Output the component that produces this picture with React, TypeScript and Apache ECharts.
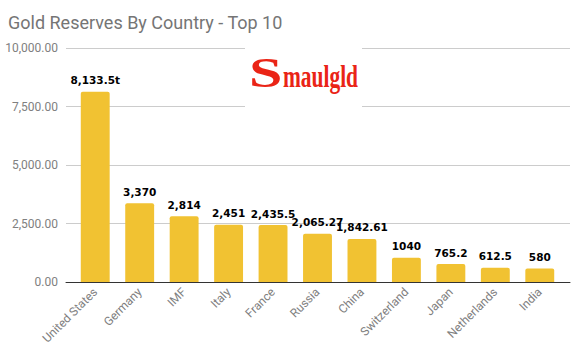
import React, { useEffect, useRef } from "react";
import * as echarts from "echarts";

const categories = ["United States", "Germany", "IMF", "Italy", "France", "Russia", "China", "Switzerland", "Japan", "Netherlands", "India"];
const values = [8133.5, 3370, 2814, 2451, 2435.5, 2065.27, 1842.61, 1040, 765.2, 612.5, 580];
const valueLabels = ["8,133.5t", "3,370", "2,814", "2,451", "2,435.5", "2,065.27", "1,842.61", "1040", "765.2", "612.5", "580"];
const yTicks = [0, 2500, 5000, 7500, 10000];

export default function App() {
  const ref = useRef<HTMLDivElement>(null);
  useEffect(() => {
    if (!ref.current) return;
    const chart = echarts.init(ref.current, undefined, { renderer: "svg" });
    const yMin = yTicks[0];
    const yMax = yTicks[yTicks.length - 1];
    chart.setOption({
      animation: false,
      backgroundColor: "#ffffff",
      title: {
        text: "Gold Reserves By Country - Top 10",
        left: 3,
        top: 8,
        textStyle: { fontFamily: "Roboto", fontSize: 18, fontWeight: "normal", color: "#757575" },
      },
      grid: [
        { left: 66, right: 10, top: 48, bottom: 76 },
        { left: 73, right: 18, top: 48, bottom: 76 },
      ],
      xAxis: [
        {
          type: "value",
          gridIndex: 0,
          min: 0,
          max: 1,
          axisLine: { show: true, onZero: false, lineStyle: { color: "#333333", width: 1 } },
          axisTick: { show: false },
          axisLabel: { show: false },
          splitLine: { show: false },
        },
        {
          type: "category",
          gridIndex: 1,
          data: categories,
          axisLine: { show: false },
          axisTick: { show: false },
          axisLabel: {
            rotate: 45,
            interval: 0,
            color: "#808080",
            fontFamily: "Roboto",
            fontSize: 12,
            margin: 8,
          },
        },
      ],
      yAxis: [
        {
          type: "value",
          gridIndex: 0,
          min: yMin,
          max: yMax,
          interval: 2500,
          axisLine: { show: false },
          axisTick: { show: false },
          splitLine: { lineStyle: { color: "#cccccc" } },
          axisLabel: {
            color: "#808080",
            fontFamily: "Roboto",
            fontSize: 12,
            margin: 8,
            formatter: (v: number) =>
              v.toLocaleString("en-US", { minimumFractionDigits: 2, maximumFractionDigits: 2 }),
          },
        },
        {
          type: "value",
          gridIndex: 1,
          min: yMin,
          max: yMax,
          interval: 2500,
          show: false,
          splitLine: { show: false },
        },
      ],
      series: [
        {
          type: "bar",
          xAxisIndex: 1,
          yAxisIndex: 1,
          data: values,
          barCategoryGap: "35%",
          itemStyle: { color: "#F1C232", borderRadius: [2, 2, 0, 0] },
          label: {
            show: true,
            position: "top",
            distance: 6,
            color: "#000000",
            fontFamily: "DejaVu Sans",
            fontWeight: "bold",
            fontSize: 10.5,
            formatter: (p: any) => valueLabels[p.dataIndex],
          },
        },
      ],
      graphic: [
        { type: "rect", shape: { x: 245, y: 43, width: 117, height: 68 }, style: { fill: "#ffffff" }, z: 10 },
        {
          type: "text",
          x: 249,
          y: 52,
          scaleX: 1.43,
          z: 11,
          style: {
            text: "S",
            fill: "#ea2416",
            font: "bold 42px 'Liberation Serif'",
            verticalAlign: "top",
          },
        },
        {
          type: "text",
          x: 283,
          y: 60,
          scaleX: 0.67,
          z: 11,
          style: {
            text: "maulgld",
            fill: "#ea2416",
            font: "bold 32px 'Liberation Serif'",
            verticalAlign: "top",
          },
        },
      ],
    });
    return () => chart.dispose();
  }, []);
  return <div ref={ref} style={{ width: 580, height: 358, position: "absolute", left: 0, top: 0 }} />;
}
